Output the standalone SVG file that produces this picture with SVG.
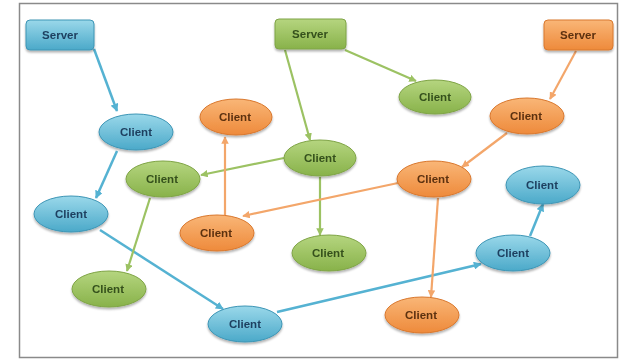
<svg xmlns="http://www.w3.org/2000/svg" width="625" height="360" viewBox="0 0 625 360">
<style>
text{font-family:"Liberation Sans","DejaVu Sans",sans-serif;font-size:11.5px;font-weight:bold;text-anchor:middle;dominant-baseline:central}
.b{fill:url(#gb);stroke:#3d95b5;stroke-width:1}
.g{fill:url(#gg);stroke:#7fa446;stroke-width:1}
.o{fill:url(#go);stroke:#d9782e;stroke-width:1}
.tb{fill:#1f4060}.tg{fill:#34501c}.to{fill:#5c3010}
.lb{stroke:#55b2d2;stroke-width:2.5;fill:none;marker-end:url(#ab)}
.lg{stroke:#9cc263;stroke-width:2.2;fill:none;marker-end:url(#ag)}
.lo{stroke:#f3a66a;stroke-width:2.2;fill:none;marker-end:url(#ao)}
</style>
<defs>
<linearGradient id="gb" x1="0" y1="0" x2="0" y2="1"><stop offset="0" stop-color="#9ad8ea"/><stop offset="1" stop-color="#4ba9c9"/></linearGradient>
<linearGradient id="gg" x1="0" y1="0" x2="0" y2="1"><stop offset="0" stop-color="#b5d57f"/><stop offset="1" stop-color="#88b24a"/></linearGradient>
<linearGradient id="go" x1="0" y1="0" x2="0" y2="1"><stop offset="0" stop-color="#f9b677"/><stop offset="1" stop-color="#ee8a3b"/></linearGradient>
<filter id="sh" x="-20%" y="-20%" width="140%" height="150%"><feDropShadow dx="0" dy="2" stdDeviation="1.2" flood-color="#000" flood-opacity="0.3"/></filter>
<marker id="ab" viewBox="0 0 10 10" refX="9" refY="5" markerWidth="3.2" markerHeight="3.2" orient="auto"><path d="M0,0 L10,5 L0,10 z" fill="#55b2d2"/></marker>
<marker id="ag" viewBox="0 0 10 10" refX="9" refY="5" markerWidth="3.4" markerHeight="3.4" orient="auto"><path d="M0,0 L10,5 L0,10 z" fill="#9cc263"/></marker>
<marker id="ao" viewBox="0 0 10 10" refX="9" refY="5" markerWidth="3.4" markerHeight="3.4" orient="auto"><path d="M0,0 L10,5 L0,10 z" fill="#f3a66a"/></marker>
</defs>
<rect x="0" y="0" width="625" height="360" fill="#fff"/>
<rect x="19.5" y="3.5" width="598" height="354" fill="#fff" stroke="#8a8a8a" stroke-width="1.5"/>
<g id="connectors">
<line class="lb" x1="94" y1="49" x2="117" y2="111"/>
<line class="lb" x1="117" y1="151" x2="96" y2="198"/>
<line class="lb" x1="100" y1="230" x2="223" y2="309"/>
<line class="lb" x1="277" y1="312" x2="481" y2="264"/>
<line class="lb" x1="530" y1="236" x2="543" y2="204"/>
<line class="lg" x1="285" y1="50" x2="310" y2="140"/>
<line class="lg" x1="345" y1="50" x2="416" y2="81"/>
<line class="lg" x1="284" y1="158" x2="201" y2="175"/>
<line class="lg" x1="320" y1="177" x2="320" y2="235"/>
<line class="lg" x1="150" y1="198" x2="127" y2="271"/>
<line class="lo" x1="576" y1="51" x2="550" y2="99"/>
<line class="lo" x1="507" y1="133" x2="462" y2="167"/>
<line class="lo" x1="398" y1="183" x2="243" y2="216"/>
<line class="lo" x1="225" y1="217" x2="225" y2="137"/>
<line class="lo" x1="438" y1="198" x2="431" y2="297"/>
</g>
<g id="server-blue" filter="url(#sh)"><rect class="b" x="26" y="20" width="68" height="30" rx="4"/><text class="tb" x="60" y="35">Server</text></g>
<g id="server-green" filter="url(#sh)"><rect class="g" x="275" y="19" width="71" height="30" rx="4"/><text class="tg" x="310" y="34">Server</text></g>
<g id="server-orange" filter="url(#sh)"><rect class="o" x="544" y="20" width="69" height="30" rx="4"/><text class="to" x="578" y="35">Server</text></g>
<g id="client-b1" filter="url(#sh)"><ellipse class="b" cx="136" cy="132" rx="37" ry="18"/><text class="tb" x="136" y="132">Client</text></g>
<g id="client-b2" filter="url(#sh)"><ellipse class="b" cx="71" cy="214" rx="37" ry="18"/><text class="tb" x="71" y="214">Client</text></g>
<g id="client-b3" filter="url(#sh)"><ellipse class="b" cx="245" cy="324" rx="37" ry="18"/><text class="tb" x="245" y="324">Client</text></g>
<g id="client-b4" filter="url(#sh)"><ellipse class="b" cx="513" cy="253" rx="37" ry="18"/><text class="tb" x="513" y="253">Client</text></g>
<g id="client-b5" filter="url(#sh)"><ellipse class="b" cx="543" cy="185" rx="37" ry="19"/><text class="tb" x="542" y="185">Client</text></g>
<g id="client-g1" filter="url(#sh)"><ellipse class="g" cx="435" cy="97" rx="36" ry="17"/><text class="tg" x="435" y="97">Client</text></g>
<g id="client-g2" filter="url(#sh)"><ellipse class="g" cx="320" cy="158" rx="36" ry="18"/><text class="tg" x="320" y="158">Client</text></g>
<g id="client-g3" filter="url(#sh)"><ellipse class="g" cx="163" cy="179" rx="37" ry="18"/><text class="tg" x="162" y="179">Client</text></g>
<g id="client-g4" filter="url(#sh)"><ellipse class="g" cx="109" cy="289" rx="37" ry="18"/><text class="tg" x="108" y="289">Client</text></g>
<g id="client-g5" filter="url(#sh)"><ellipse class="g" cx="329" cy="253" rx="37" ry="18"/><text class="tg" x="328" y="253">Client</text></g>
<g id="client-o1" filter="url(#sh)"><ellipse class="o" cx="236" cy="117" rx="36" ry="18"/><text class="to" x="235" y="117">Client</text></g>
<g id="client-o2" filter="url(#sh)"><ellipse class="o" cx="527" cy="116" rx="37" ry="18"/><text class="to" x="526" y="116">Client</text></g>
<g id="client-o3" filter="url(#sh)"><ellipse class="o" cx="434" cy="179" rx="37" ry="18"/><text class="to" x="433" y="179">Client</text></g>
<g id="client-o4" filter="url(#sh)"><ellipse class="o" cx="217" cy="233" rx="37" ry="18"/><text class="to" x="216" y="233">Client</text></g>
<g id="client-o5" filter="url(#sh)"><ellipse class="o" cx="422" cy="315" rx="37" ry="18"/><text class="to" x="421" y="315">Client</text></g>
</svg>
